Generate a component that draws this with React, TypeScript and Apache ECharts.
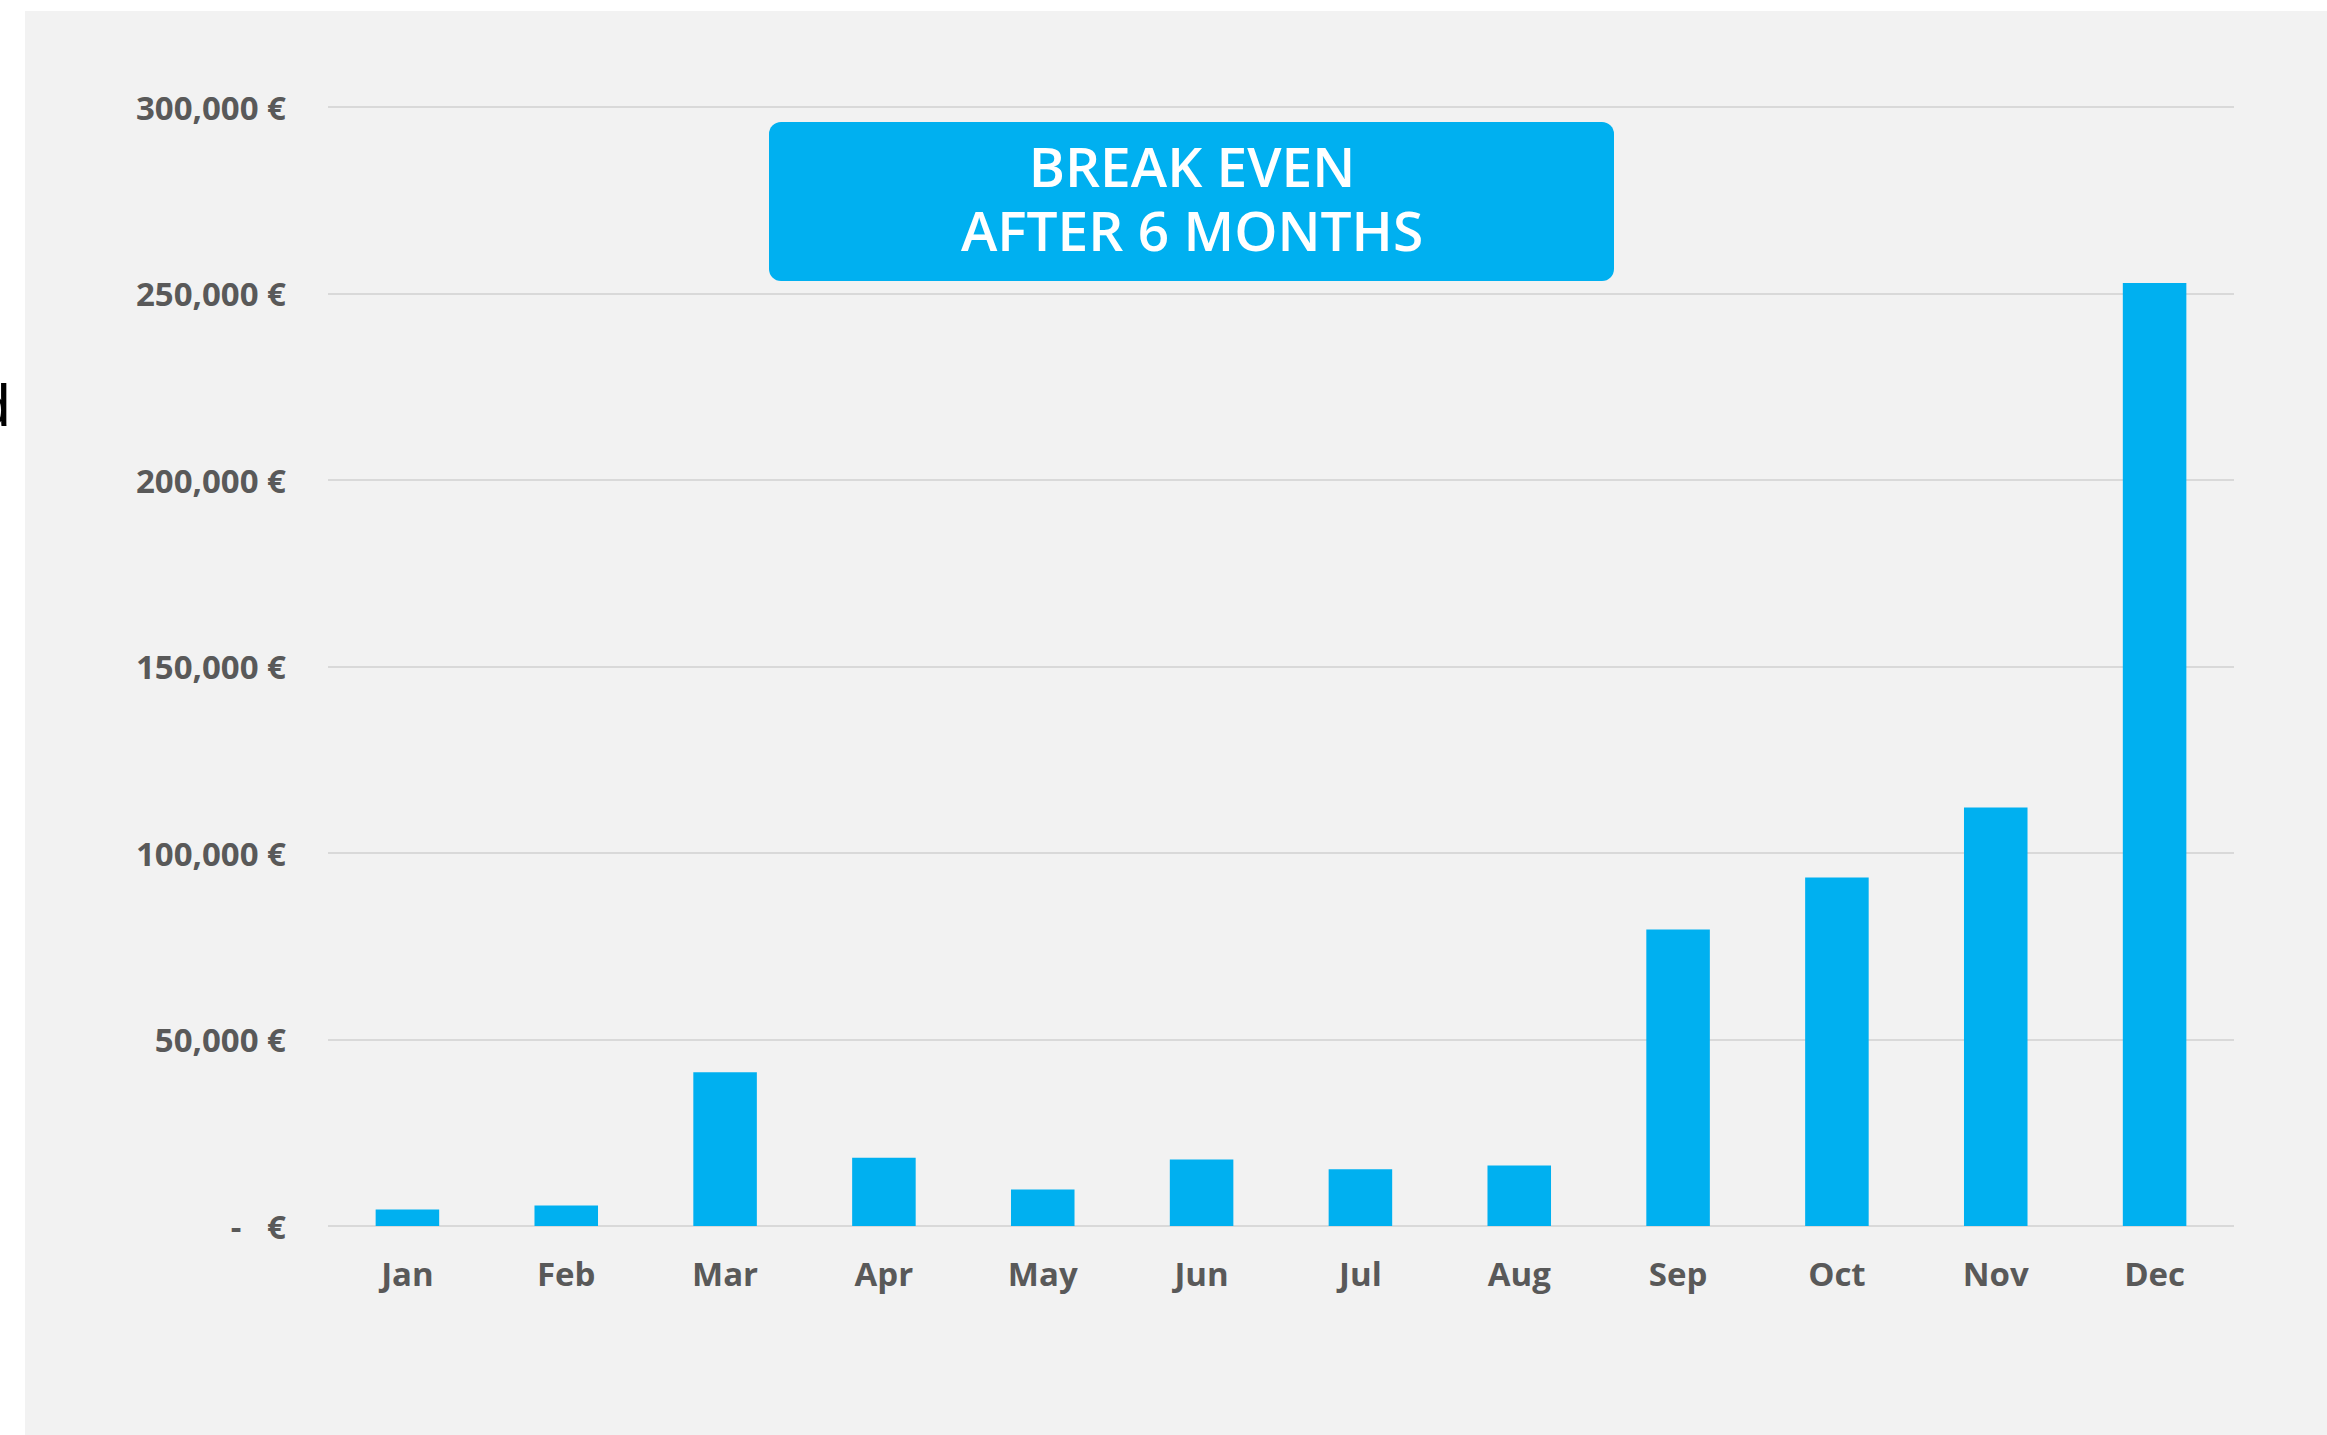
import React, { useEffect, useRef } from "react";
import * as echarts from "echarts";

const months = ["Jan", "Feb", "Mar", "Apr", "May", "Jun", "Jul", "Aug", "Sep", "Oct", "Nov", "Dec"];
const revenue = [4400, 5500, 41200, 18300, 9800, 17800, 15200, 16200, 79500, 93400, 112200, 252800];
const yTicks = { min: 0, max: 300000, interval: 50000 };
const boxLines = ["BREAK EVEN", "AFTER 6 MONTHS"];

const W = 2327;
const H = 1435;

export default function App() {
  const ref = useRef<HTMLDivElement>(null);

  useEffect(() => {
    if (!ref.current) return;
    const chart = echarts.init(ref.current, null, { renderer: "svg", width: W, height: H });
    const labelFont = "'Open Sans', 'Noto Sans', sans-serif";
    chart.setOption({
      animation: false,
      backgroundColor: "#ffffff",
      grid: { left: 328, right: 93, top: 107, bottom: 209, containLabel: false },
      xAxis: {
        type: "category",
        data: months,
        axisLine: { show: false },
        axisTick: { show: false },
        axisLabel: {
          color: "#595959",
          fontFamily: labelFont,
          fontWeight: "bold",
          fontSize: 33,
          margin: 31,
        },
      },
      yAxis: {
        type: "value",
        min: yTicks.min,
        max: yTicks.max,
        interval: yTicks.interval,
        axisLine: { show: false },
        axisTick: { show: false },
        splitLine: { show: true, lineStyle: { color: "#d9d9d9", width: 2 } },
        axisLabel: {
          color: "#595959",
          fontFamily: labelFont,
          fontWeight: "bold",
          fontSize: 33,
          margin: 42,
          formatter: (v: number) => (v === 0 ? "-   €" : v.toLocaleString("en-US") + " €"),
        },
      },
      series: [
        {
          type: "bar",
          data: revenue,
          barWidth: "40%",
          itemStyle: { color: "#00B0F0" },
        },
      ],
      graphic: [
        {
          type: "rect",
          z: -100,
          silent: true,
          shape: { x: 25, y: 11, width: W - 25, height: H - 11 },
          style: { fill: "#f2f2f2" },
        },
        {
          type: "text",
          z: 10,
          x: -23,
          y: 435,
          style: {
            text: "d",
            fill: "#000000",
            font: "normal 60px 'Liberation Sans', sans-serif",
            textAlign: "left",
            textVerticalAlign: "bottom",
          },
        },
        {
          type: "rect",
          z: 100,
          shape: { x: 769, y: 122, width: 845, height: 159, r: 12 },
          style: { fill: "#00B0F0" },
        },
        {
          type: "text",
          z: 101,
          x: 1192,
          y: 165,
          style: {
            text: boxLines[0],
            fill: "#ffffff",
            font: "600 55px 'Open Sans', sans-serif",
            textAlign: "center",
            textVerticalAlign: "middle",
          },
        },
        {
          type: "text",
          z: 101,
          x: 1192,
          y: 229,
          style: {
            text: boxLines[1],
            fill: "#ffffff",
            font: "600 55px 'Open Sans', sans-serif",
            textAlign: "center",
            textVerticalAlign: "middle",
          },
        },
      ],
    });
    return () => chart.dispose();
  }, []);

  return <div ref={ref} style={{ position: "absolute", left: 0, top: 0, width: W, height: H }} />;
}
